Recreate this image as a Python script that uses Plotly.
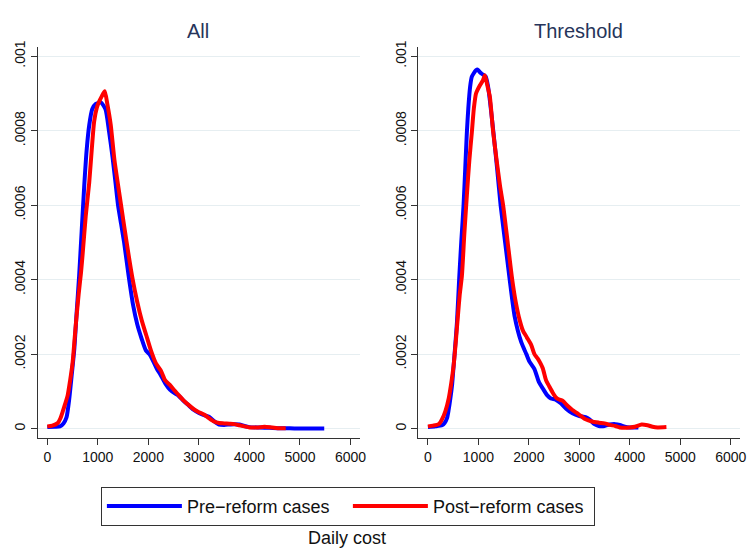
import plotly.graph_objects as go

# Kernel density of daily cost, pre- vs post-reform, two samples
all_pre_x = [0, 150, 250, 320, 380, 430, 480, 535, 580, 630, 680, 730, 780, 830, 890, 960,
             1060, 1150, 1220, 1290, 1350, 1400, 1460, 1520, 1610, 1700, 1780, 1870, 1950,
             2020, 2100, 2170, 2240, 2340, 2430, 2530, 2600, 2700, 2800, 2900, 3000, 3100,
             3200, 3300, 3400, 3500, 3600, 3700, 3800, 3900, 4000, 4200, 4400, 4600, 4800,
             5000, 5200, 5480]
all_pre_y = [0.000004, 0.000005, 0.000006, 0.000014, 0.00003, 0.000075, 0.00014, 0.000215,
             0.00031, 0.00041, 0.00053, 0.00065, 0.00075, 0.000815, 0.000858, 0.000872,
             0.000876, 0.000858, 0.0008, 0.00073, 0.00066, 0.0006, 0.00055, 0.0005, 0.00041,
             0.00033, 0.00028, 0.00024, 0.00021, 0.0002, 0.00018, 0.00016, 0.000145, 0.00012,
             0.000104, 0.000094, 0.000088, 0.000074, 0.000062, 0.00005, 0.000042, 0.000036,
             0.000032, 0.00002, 0.000011, 0.00001, 0.000011, 0.000012, 0.000011, 0.000007,
             0.000004, 0.000003, 0.000002, 0.000001, 0.000001, 0.0, 0.0000005, 0.0000005]

all_post_x = [0, 100, 208, 260, 306, 350, 404, 450, 502, 540, 568, 620, 666, 700, 760, 829,
              880, 927, 980, 1025, 1080, 1137, 1190, 1255, 1330, 1460, 1570, 1690, 1780, 1870,
              1960, 2050, 2150, 2250, 2330, 2420, 2500, 2600, 2700, 2800, 2900, 3000, 3100,
              3200, 3300, 3400, 3500, 3600, 3700, 3800, 3900, 4000, 4150, 4300, 4450, 4600,
              4718]
all_post_y = [0.000006, 0.000008, 0.000015, 0.000028, 0.000046, 0.000065, 0.00009, 0.000128,
              0.000179, 0.00024, 0.000285, 0.00036, 0.000418, 0.00047, 0.00057, 0.00066,
              0.00075, 0.000825, 0.000862, 0.000878, 0.000893, 0.000906, 0.00087, 0.000816,
              0.00072, 0.0006, 0.0005, 0.0004, 0.00034, 0.00029, 0.00025, 0.00021, 0.000175,
              0.000155, 0.00013, 0.000118, 0.000105, 0.00009, 0.000075, 0.000063, 0.000052,
              0.000044, 0.000038, 0.000028, 0.000019, 0.000015, 0.000014, 0.000013, 0.000012,
              0.000009, 0.000006, 0.000003, 0.000003, 0.000005, 0.000003, 0.000001, 0.000001]

thr_pre_x = [0, 150, 280, 330, 378, 410, 444, 480, 510, 545, 575, 620, 660, 706, 740, 771,
             800, 836, 870, 902, 950, 986, 1030, 1065, 1143, 1190, 1227, 1294, 1370, 1440,
             1530, 1620, 1720, 1849, 1950, 2012, 2110, 2200, 2275, 2360, 2437, 2530, 2633,
             2750, 2863, 3000, 3124, 3200, 3300, 3385, 3500, 3600, 3712, 3800, 3900, 4000,
             4169]
thr_pre_y = [0.000004, 0.000006, 0.000009, 0.000015, 0.000028, 0.00005, 0.000081, 0.00012,
             0.00017, 0.00023, 0.000285, 0.000404, 0.0005, 0.0006, 0.0007, 0.000794, 0.00086,
             0.000918, 0.000945, 0.000953, 0.000962, 0.000964, 0.000957, 0.000953, 0.000946,
             0.00092, 0.000882, 0.0008, 0.0007, 0.0006, 0.0005, 0.0004, 0.0003, 0.000232,
             0.0002, 0.00018, 0.00016, 0.000125, 0.000108, 0.00009, 0.000081, 0.000078,
             0.000068, 0.000052, 0.000041, 0.000034, 0.000031, 0.000025, 0.000012, 0.000007,
             0.000007, 0.000011, 0.000012, 0.00001, 0.000005, 0.000003, 0.000003]

thr_post_x = [0, 100, 216, 280, 345, 412, 460, 510, 550, 594, 630, 673, 720, 771, 820, 869,
              910, 953, 1031, 1090, 1129, 1180, 1227, 1290, 1359, 1430, 1490, 1580, 1670, 1740,
              1820, 1882, 1960, 2045, 2110, 2176, 2230, 2275, 2340, 2405, 2470, 2535, 2600,
              2667, 2760, 2863, 2950, 3050, 3124, 3250, 3385, 3500, 3600, 3712, 3800, 3900,
              4000, 4100, 4235, 4350, 4450, 4550, 4725]
thr_post_y = [0.000006, 0.000008, 0.000012, 0.000025, 0.000046, 0.000081, 0.00012, 0.00017,
              0.00023, 0.000303, 0.00036, 0.00041, 0.00052, 0.000626, 0.00072, 0.000794,
              0.00086, 0.0009, 0.000922, 0.000935, 0.000949, 0.00092, 0.000891, 0.0008,
              0.000723, 0.00065, 0.0006, 0.0005, 0.0004, 0.00034, 0.00029, 0.000263, 0.000245,
              0.000225, 0.0002, 0.000188, 0.000175, 0.000162, 0.00013, 0.000113, 0.000097,
              0.000084, 0.000078, 0.000075, 0.000062, 0.00005, 0.000042, 0.000032, 0.000025,
              0.000019, 0.000016, 0.000014, 0.00001, 0.000007, 0.000003, 0.000002, 0.000003,
              0.000005, 0.000011, 0.000009, 0.000005, 0.000003, 0.000004]

panel_titles = ["All", "Threshold"]
series_names = ["Pre\u2212reform cases", "Post\u2212reform cases"]
x_title = "Daily cost"
x_ticks = [0, 1000, 2000, 3000, 4000, 5000, 6000]
y_ticks = [0, 0.0002, 0.0004, 0.0006, 0.0008, 0.001]
y_tick_text = ["0", ".0002", ".0004", ".0006", ".0008", ".001"]

BLUE = "#0000ff"
RED = "#ff0000"
FONT = "Liberation Sans, Arial, sans-serif"
W, H = 753, 548

fig = go.Figure()
panels = [(all_pre_x, all_pre_y, all_post_x, all_post_y, "x", "y"),
          (thr_pre_x, thr_pre_y, thr_post_x, thr_post_y, "x2", "y2")]
for i, (px, py, qx, qy, xa, ya) in enumerate(panels):
    fig.add_trace(go.Scatter(x=px, y=py, mode="lines", name=series_names[0],
                             line=dict(color=BLUE, width=4, shape="spline", smoothing=0.6),
                             xaxis=xa, yaxis=ya, showlegend=(i == 0), legendrank=1))
    fig.add_trace(go.Scatter(x=qx, y=qy, mode="lines", name=series_names[1],
                             line=dict(color=RED, width=4, shape="spline", smoothing=0.6),
                             xaxis=xa, yaxis=ya, showlegend=(i == 0), legendrank=2))

plot_top, plot_bottom = 41, 436.7
ydom = [1 - plot_bottom / H, 1 - plot_top / H]
xdoms = [[38 / W, 362.7 / W], [421.7 / W, 746 / W]]

axis_common = dict(showline=True, linecolor="#333333", linewidth=1, ticks="outside",
                   ticklen=6, tickcolor="#333333", tickfont=dict(family=FONT, size=14, color="#111111"),
                   zeroline=False)
for i, sfx in enumerate(["", "2"]):
    fig.layout["xaxis" + sfx] = dict(domain=xdoms[i], range=[-190, 6184], tickvals=x_ticks,
                                     showgrid=False, anchor="y" + sfx, **axis_common)
    fig.layout["yaxis" + sfx] = dict(domain=ydom, range=[-0.000025, 0.001026], tickvals=y_ticks,
                                     ticktext=y_tick_text, tickangle=-90, showgrid=True,
                                     gridcolor="#e6eef1", gridwidth=1, anchor="x" + sfx,
                                     **axis_common)

title_x = [200, 583]
for t, xp in zip(panel_titles, title_x):
    fig.add_annotation(text=t, x=xp / W, y=1 - 25 / H, xref="paper", yref="paper",
                       showarrow=False, xanchor="center", yanchor="middle",
                       font=dict(family=FONT, size=20, color="#26345a"))

fig.add_annotation(text=x_title, x=350 / W, y=1 - 538 / H, xref="paper", yref="paper",
                   showarrow=False, xanchor="center", yanchor="middle",
                   font=dict(family=FONT, size=18, color="#111111"))

fig.update_layout(
    width=W, height=H, margin=dict(l=0, r=0, t=0, b=0),
    paper_bgcolor="white", plot_bgcolor="white",
    showlegend=True,
    legend=dict(orientation="h", x=101.7 / W, y=1 - 486 / H, xanchor="left", yanchor="top",
                bordercolor="#333333", borderwidth=1, bgcolor="white",
                font=dict(family=FONT, size=18, color="#111111"),
                entrywidth=156, itemwidth=75, traceorder="normal"),
)

fig.write_html("out.html")
